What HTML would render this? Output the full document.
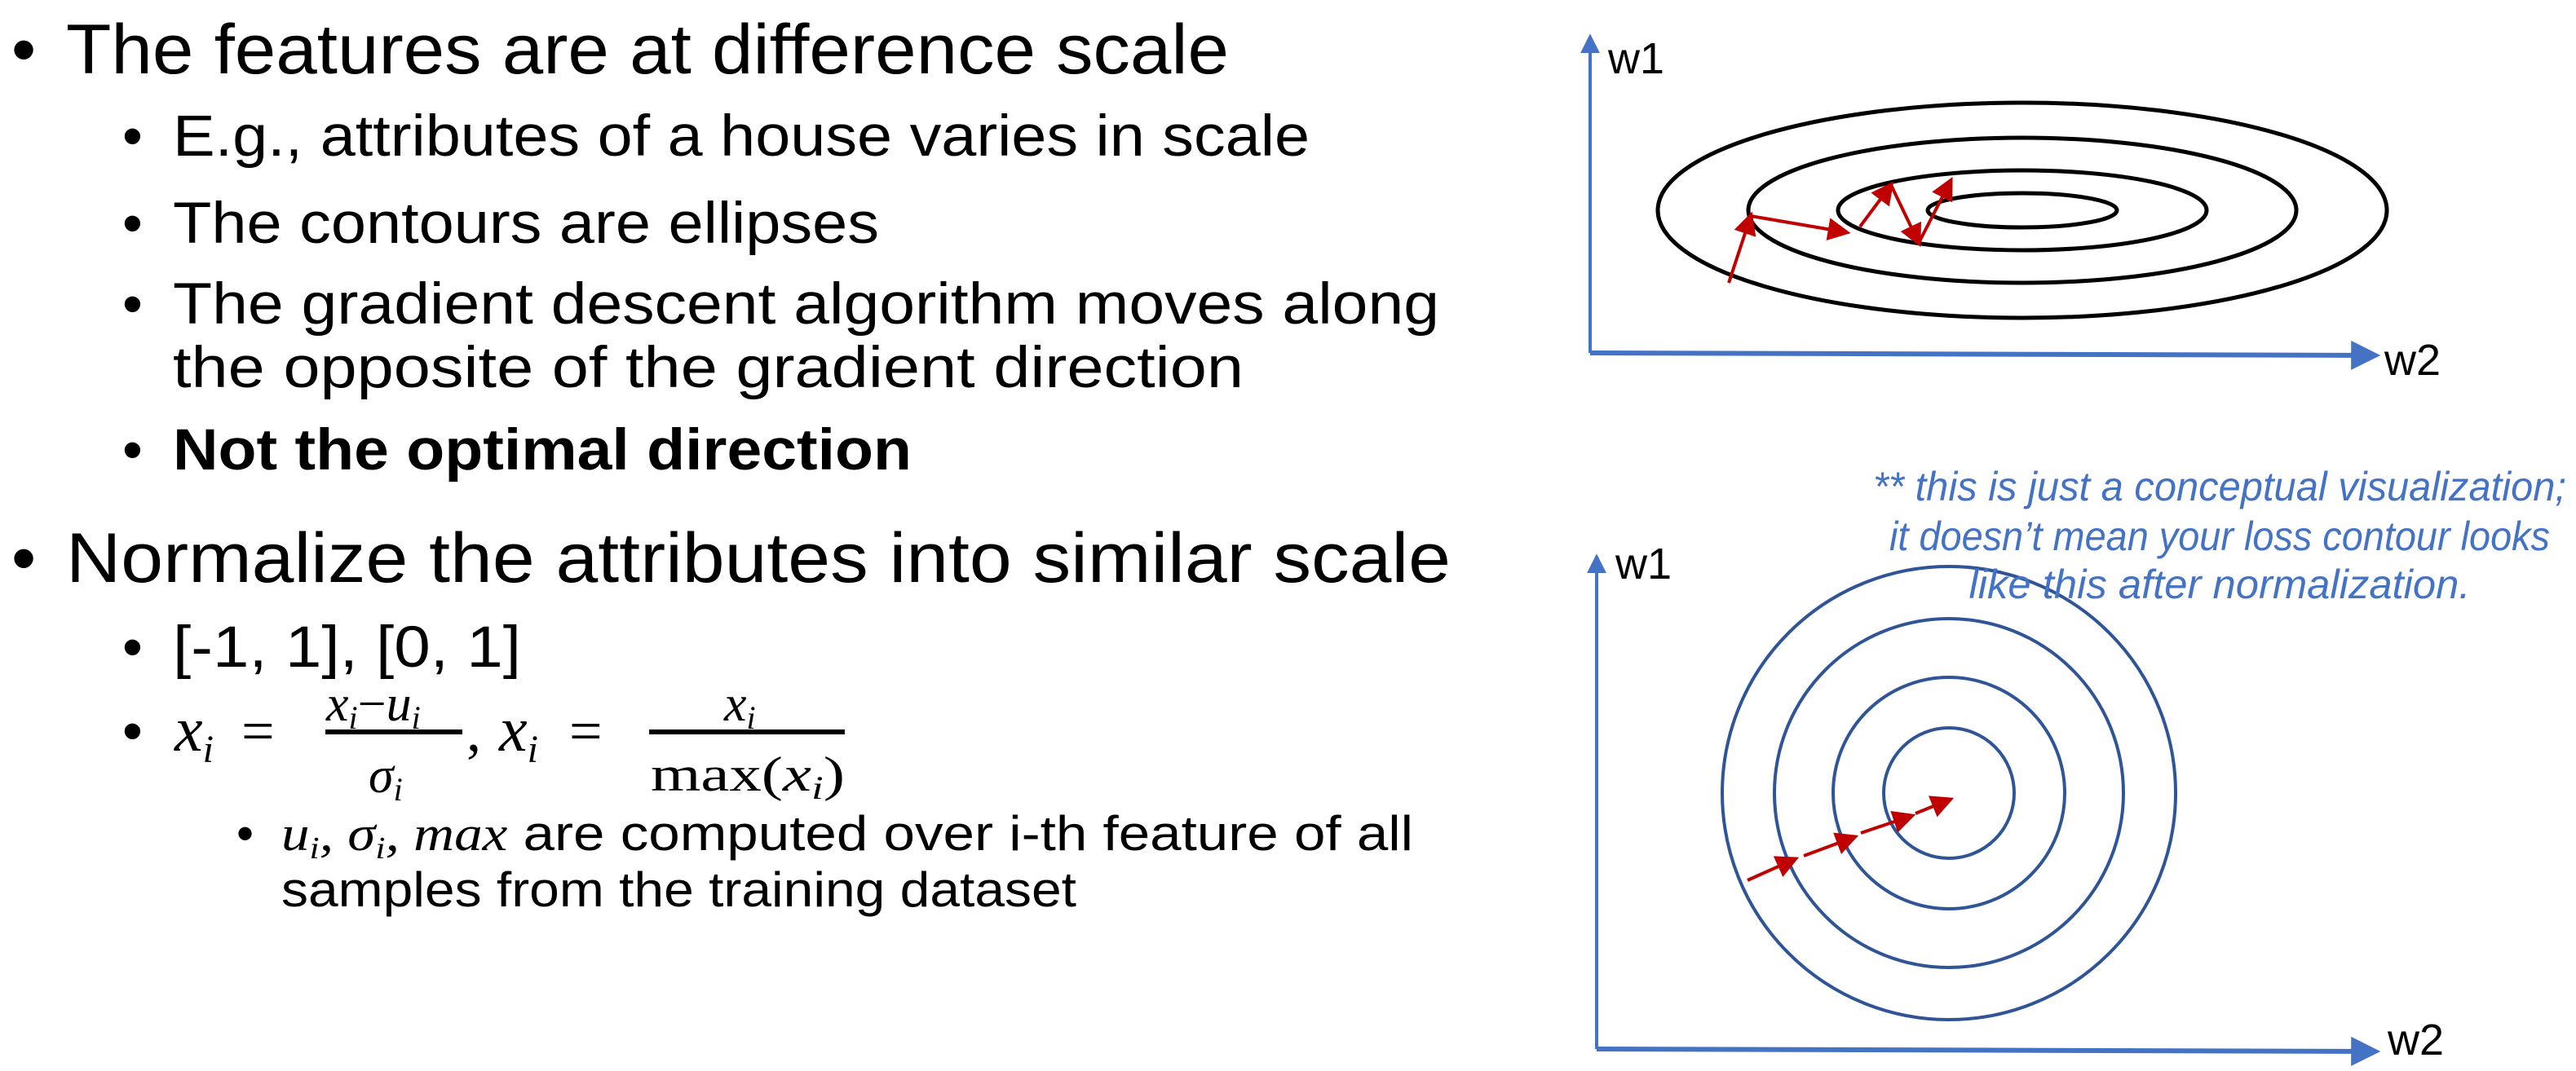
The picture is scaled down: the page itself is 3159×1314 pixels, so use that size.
<!DOCTYPE html>
<html><head><meta charset="utf-8"><style>
html,body{margin:0;padding:0;background:#fff;}
svg{display:block;}
text{font-family:"Liberation Sans",sans-serif;fill:#000;}
.m{font-family:"Liberation Serif",serif;font-style:italic;}
.n{font-family:"Liberation Serif",serif;}
.note{fill:#4472C4;font-family:"Liberation Sans Narrow","Liberation Sans",sans-serif;font-style:italic;}
</style></head><body>
<svg id="s" width="3159" height="1314" viewBox="0 0 3159 1314" xmlns="http://www.w3.org/2000/svg">
<defs>
<marker id="ah" viewBox="0 0 10 10" refX="8" refY="5" markerWidth="6" markerHeight="6" orient="auto-start-reverse"><path d="M0,0 L10,5 L0,10 z" fill="#4472C4"/></marker>
<marker id="rh" viewBox="0 0 10 10" refX="8" refY="5" markerWidth="7" markerHeight="7" orient="auto"><path d="M0,0 L10,5 L0,10 z" fill="#C00000"/></marker>
</defs>
<g>
<text x="14" y="90" font-size="86">•</text>
<text x="81" y="90" font-size="86" textLength="1426" lengthAdjust="spacingAndGlyphs">The features are at difference scale</text>
<text x="150" y="191" font-size="71">•</text>
<text x="212" y="191" font-size="71" textLength="1394" lengthAdjust="spacingAndGlyphs">E.g., attributes of a house varies in scale</text>
<text x="150" y="298" font-size="71">•</text>
<text x="212" y="298" font-size="71" textLength="866" lengthAdjust="spacingAndGlyphs">The contours are ellipses</text>
<text x="150" y="397" font-size="71">•</text>
<text x="212" y="397" font-size="71" textLength="1553" lengthAdjust="spacingAndGlyphs">The gradient descent algorithm moves along</text>
<text x="212" y="475" font-size="71" textLength="1313" lengthAdjust="spacingAndGlyphs">the opposite of the gradient direction</text>
<text x="150" y="576" font-size="71">•</text>
<text x="212" y="576" font-size="71" font-weight="bold" textLength="906" lengthAdjust="spacingAndGlyphs">Not the optimal direction</text>
<text x="14" y="714" font-size="86">•</text>
<text x="81" y="714" font-size="86" textLength="1698" lengthAdjust="spacingAndGlyphs">Normalize the attributes into similar scale</text>
<text x="150" y="818" font-size="71">•</text>
<text x="212" y="818" font-size="71" textLength="427" lengthAdjust="spacingAndGlyphs">[-1, 1], [0, 1]</text>
<text x="150" y="921" font-size="71">•</text>
<g>
<text x="214" y="921" font-size="78" class="m">x<tspan font-size="48" dy="14">i</tspan></text>
<text x="296" y="921" font-size="72" class="n">=</text>
<text x="400" y="884" font-size="62" class="m">x<tspan font-size="40" dy="10">i</tspan><tspan dy="-10" class="n" font-style="normal">−</tspan>u<tspan font-size="40" dy="10">i</tspan></text>
<rect x="399" y="895" width="168" height="6" fill="#000"/>
<text x="452" y="972" font-size="62" class="m">σ<tspan font-size="40" dy="10">i</tspan></text>
<text x="572" y="921" font-size="72" class="n">,</text>
<text x="612" y="921" font-size="78" class="m">x<tspan font-size="48" dy="14">i</tspan></text>
<text x="698" y="921" font-size="72" class="n">=</text>
<text x="888" y="884" font-size="62" class="m">x<tspan font-size="40" dy="10">i</tspan></text>
<rect x="796" y="895" width="240" height="6" fill="#000"/>
<text x="798" y="970" font-size="60" class="n" textLength="238" lengthAdjust="spacingAndGlyphs">max(<tspan class="m">x</tspan><tspan class="m" font-size="40" dy="10">i</tspan><tspan dy="-10">)</tspan></text>
</g>
<text x="290" y="1043" font-size="60">•</text>
<text x="345" y="1043" font-size="60" textLength="1388" lengthAdjust="spacingAndGlyphs"><tspan class="m">u<tspan font-size="38" dy="10">i</tspan><tspan dy="-10">, σ</tspan><tspan font-size="38" dy="10">i</tspan><tspan dy="-10">, max</tspan></tspan> are computed over i-th feature of all</text>
<text x="345" y="1112" font-size="60" textLength="975" lengthAdjust="spacingAndGlyphs">samples from the training dataset</text>
</g>
<g id="topChart"></g>
<g id="botChart"></g>
<g>
<text class="note" x="2722" y="614" font-size="50" text-anchor="middle" textLength="850" lengthAdjust="spacingAndGlyphs">** this is just a conceptual visualization;</text>
<text class="note" x="2722" y="675" font-size="50" text-anchor="middle" textLength="810" lengthAdjust="spacingAndGlyphs">it doesn’t mean your loss contour looks</text>
<text class="note" x="2722" y="734" font-size="50" text-anchor="middle" textLength="615" lengthAdjust="spacingAndGlyphs">like this after normalization.</text>
</g>
</svg>
<script>
const NS='http://www.w3.org/2000/svg';
// top chart data
const topCenter=[2480,258];
const topRx=[447,336,226,116];
const topRy=[132,89,49,21];
const topPathA=[[2120,347],[2147,265],[2264,285]];
const topPathB=[[2281,278],[2319,227],[2353,298],[2392,222]];
// bottom chart data
const botCenter=[2390,973];
const botR=[278,214,142,80];
const botSegs=[[[2143,1080],[2201,1054]],[[2212,1050],[2274,1027]],[[2282,1022],[2344,1001]],[[2349,998],[2391,981]]];
function mk(t,a,p){const e=document.createElementNS(NS,t);for(const k in a)e.setAttribute(k,a[k]);p.appendChild(e);return e;}
function axes(g,x0,yTop,yBot,xEnd,lw1,lw2){
  const a=mk('line',{x1:x0,y1:yBot,x2:x0,y2:yTop,stroke:'#4472C4','stroke-width':4,'marker-end':'url(#ah)'},g);
  
  
  const b=mk('line',{x1:x0,y1:yBot,x2:xEnd,y2:yBot+3,stroke:'#4472C4','stroke-width':6,'marker-end':'url(#ah)'},g);
  
  
  const t1=mk('text',{x:lw1[0],y:lw1[1],'font-size':54},g);t1.textContent='w1';
  
  
  const t2=mk('text',{x:lw2[0],y:lw2[1],'font-size':54},g);t2.textContent='w2';
  
  
}
const topG=document.getElementById('topChart');
axes(topG,1950,46,433,2912,[1972,90],[2924,460]);
topRx.forEach((rx,i)=>{const e=mk('ellipse',{cx:topCenter[0],cy:topCenter[1],rx:rx,ry:topRy[i],fill:'none',stroke:'#000','stroke-width':5},topG);
  
  });
[topPathA,topPathB].forEach(p=>{for(let i=0;i<p.length-1;i++){const l=mk('line',{x1:p[i][0],y1:p[i][1],x2:p[i+1][0],y2:p[i+1][1],stroke:'#C00000','stroke-width':4,'marker-end':'url(#rh)'},topG);
  
  }});
const botG=document.getElementById('botChart');
axes(botG,1958,684,1287,2912,[1981,710],[2928,1294]);
botR.forEach(r=>{const c=mk('circle',{cx:botCenter[0],cy:botCenter[1],r:r,fill:'none',stroke:'#2F5597','stroke-width':4},botG);
  
  });
botSegs.forEach(s=>{const l=mk('line',{x1:s[0][0],y1:s[0][1],x2:s[1][0],y2:s[1][1],stroke:'#C00000','stroke-width':4,'marker-end':'url(#rh)'},botG);
  
  });
</script>
</body></html>
